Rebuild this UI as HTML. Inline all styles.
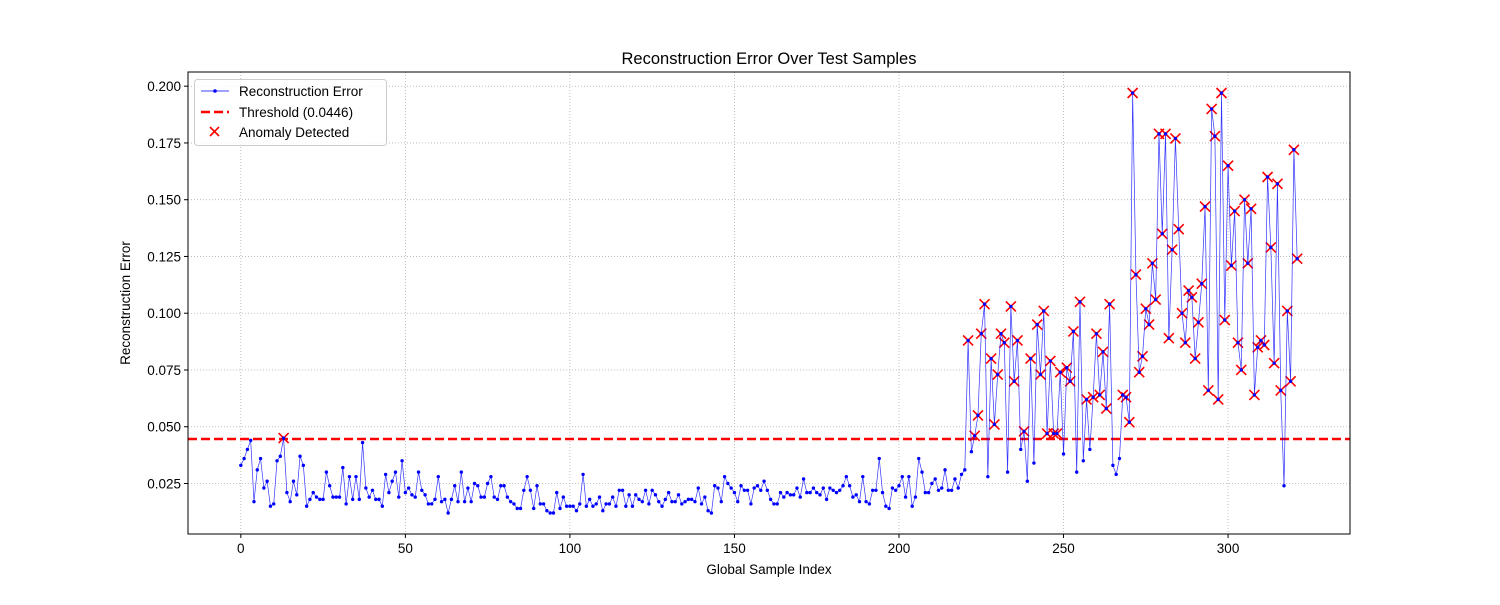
<!DOCTYPE html>
<html><head><meta charset="utf-8"><style>
body{margin:0;background:#fff;}
svg text{font-family:"Liberation Sans","DejaVu Sans",sans-serif;fill:#000;}
</style></head><body>
<svg id="chart" width="1500" height="600" xmlns="http://www.w3.org/2000/svg">
<rect width="1500" height="600" fill="#fff"/>
<g id="grid"></g>
<g id="ticks"></g>
<g id="marks"></g>
<rect x="188" y="72" width="1162" height="462" fill="none" stroke="#000" stroke-width="1"/>
<text x="769" y="64" font-size="16.5" text-anchor="middle">Reconstruction Error Over Test Samples</text>
<text x="769" y="574" font-size="13.5" text-anchor="middle">Global Sample Index</text>
<text x="0" y="0" font-size="13.5" text-anchor="middle" transform="translate(130,303) rotate(-90)">Reconstruction Error</text>
<g>
<rect x="194.5" y="79.5" width="192" height="66" rx="3" fill="#fff" fill-opacity="0.8" stroke="#ccc"/>
<g>
<line x1="201" y1="91" x2="229" y2="91" stroke="#00f" stroke-width="0.8"/><circle cx="215" cy="91" r="1.8" fill="#00f"/>
<text x="239" y="96" font-size="13.5">Reconstruction Error</text></g>
<g>
<line x1="201" y1="112" x2="229" y2="112" stroke="#f00" stroke-width="2.5" stroke-dasharray="9,4"/>
<text x="239" y="117" font-size="13.5">Threshold (0.0446)</text></g>
<g>
<path d="M210 127l9 9M219 127l-9 9" stroke="#f00" stroke-width="1.6"/>
<text x="239" y="137" font-size="13.5">Anomaly Detected</text></g>
</g>
</svg>
<script>
const errors=[0.033,0.036,0.040,0.044,0.017,0.031,0.036,0.023,0.026,0.015,0.016,0.035,0.037,0.045,0.021,0.017,0.026,0.020,0.037,0.033,
0.015,0.018,0.021,0.019,0.018,0.018,0.030,0.024,0.019,0.019,0.019,0.032,0.016,0.028,0.018,0.028,0.018,0.043,0.023,0.019,
0.022,0.018,0.018,0.015,0.029,0.021,0.026,0.030,0.019,0.035,0.021,0.023,0.020,0.019,0.030,0.022,0.020,0.016,0.016,0.018,
0.028,0.017,0.018,0.012,0.018,0.024,0.017,0.030,0.017,0.023,0.017,0.025,0.024,0.019,0.019,0.025,0.028,0.019,0.018,0.024,
0.024,0.019,0.017,0.016,0.014,0.014,0.022,0.028,0.022,0.014,0.024,0.016,0.016,0.013,0.012,0.012,0.021,0.014,0.019,0.015,
0.015,0.015,0.013,0.016,0.029,0.015,0.018,0.015,0.016,0.019,0.013,0.016,0.016,0.019,0.015,0.022,0.022,0.015,0.020,0.015,
0.020,0.018,0.017,0.022,0.016,0.022,0.020,0.017,0.015,0.018,0.021,0.017,0.017,0.020,0.016,0.017,0.018,0.018,0.017,0.023,
0.016,0.019,0.013,0.012,0.024,0.023,0.017,0.028,0.025,0.023,0.021,0.017,0.024,0.022,0.022,0.016,0.023,0.024,0.022,0.026,
0.022,0.018,0.016,0.016,0.021,0.019,0.021,0.020,0.020,0.023,0.019,0.027,0.021,0.021,0.023,0.021,0.020,0.023,0.018,0.023,
0.022,0.021,0.022,0.024,0.028,0.024,0.019,0.020,0.017,0.028,0.017,0.016,0.022,0.022,0.036,0.021,0.015,0.014,0.023,0.022,
0.024,0.028,0.019,0.028,0.015,0.019,0.036,0.030,0.021,0.021,0.025,0.027,0.022,0.023,0.031,0.022,0.022,0.027,0.023,0.029,
0.031,0.088,0.039,0.046,0.055,0.091,0.104,0.028,0.080,0.051,0.073,0.091,0.087,0.030,0.103,0.070,0.088,0.040,0.048,0.026,
0.080,0.034,0.095,0.073,0.101,0.047,0.079,0.047,0.047,0.074,0.038,0.076,0.070,0.092,0.030,0.105,0.035,0.062,0.040,0.063,
0.091,0.064,0.083,0.058,0.104,0.033,0.029,0.036,0.064,0.063,0.052,0.197,0.117,0.074,0.081,0.102,0.095,0.122,0.106,0.179,
0.135,0.179,0.089,0.128,0.177,0.137,0.100,0.087,0.110,0.107,0.080,0.096,0.113,0.147,0.066,0.190,0.178,0.062,0.197,0.097,
0.165,0.121,0.145,0.087,0.075,0.150,0.122,0.146,0.064,0.085,0.088,0.086,0.160,0.129,0.078,0.157,0.066,0.024,0.101,0.070,
0.172,0.124];
const threshold=[0.0446];
const xTicks=[0,50,100,150,200,250,300];
const yTicks=[0.025,0.050,0.075,0.100,0.125,0.150,0.175,0.200];

const L=188,R=1350,T=72,B=534;
const xMin=-16.05,xMax=337.05,yMin=0.00275,yMax=0.20625;
const xs=v=>L+(v-xMin)/(xMax-xMin)*(R-L);
const ys=v=>B-(v-yMin)/(yMax-yMin)*(B-T);
const NS="http://www.w3.org/2000/svg";
function mk(tag,attrs,parent){const e=document.createElementNS(NS,tag);for(const k in attrs)e.setAttribute(k,attrs[k]);parent.appendChild(e);return e;}
const grid=document.getElementById('grid'),ticks=document.getElementById('ticks'),marks=document.getElementById('marks');
xTicks.forEach(t=>{const x=xs(t);
 const g=mk('line',{x1:x,x2:x,y1:T,y2:B,stroke:'#b0b0b0','stroke-width':0.8,'stroke-dasharray':'1,2'},grid);
 
 
 mk('line',{x1:x,x2:x,y1:B,y2:B+4,stroke:'#000'},ticks);
 const tx=mk('text',{x:x,y:B+19,'font-size':13.5,'text-anchor':'middle'},ticks);tx.textContent=t;
 
 });
yTicks.forEach(t=>{const y=ys(t);
 const g=mk('line',{x1:L,x2:R,y1:y,y2:y,stroke:'#b0b0b0','stroke-width':0.8,'stroke-dasharray':'1,2'},grid);
 
 
 mk('line',{x1:L-4,x2:L,y1:y,y2:y,stroke:'#000'},ticks);
 const tx=mk('text',{x:L-7,y:y+5,'font-size':13.5,'text-anchor':'end'},ticks);tx.textContent=t.toFixed(3);
 
 });
const th=mk('line',{x1:L,x2:R,y1:ys(threshold[0]),y2:ys(threshold[0]),stroke:'#f00','stroke-width':2.5,'stroke-dasharray':'9,4'},marks);


errors.forEach((v,i)=>{if(v>threshold[0]){const x=xs(i),y=ys(v);
 const p=mk('path',{d:`M${x-5} ${y-5}L${x+5} ${y+5}M${x+5} ${y-5}L${x-5} ${y+5}`,stroke:'#f00','stroke-width':1.6},marks);
 
 }});
const pts=errors.map((v,i)=>xs(i).toFixed(2)+','+ys(v).toFixed(2)).join(' ');
const line=mk('polyline',{points:pts,fill:'none',stroke:'#00f','stroke-width':0.7,'stroke-opacity':0.8},marks);


errors.forEach((v,i)=>{const c=mk('circle',{cx:xs(i),cy:ys(v),r:1.7,fill:'#00f'},marks);
 
 });
</script>
</body></html>
